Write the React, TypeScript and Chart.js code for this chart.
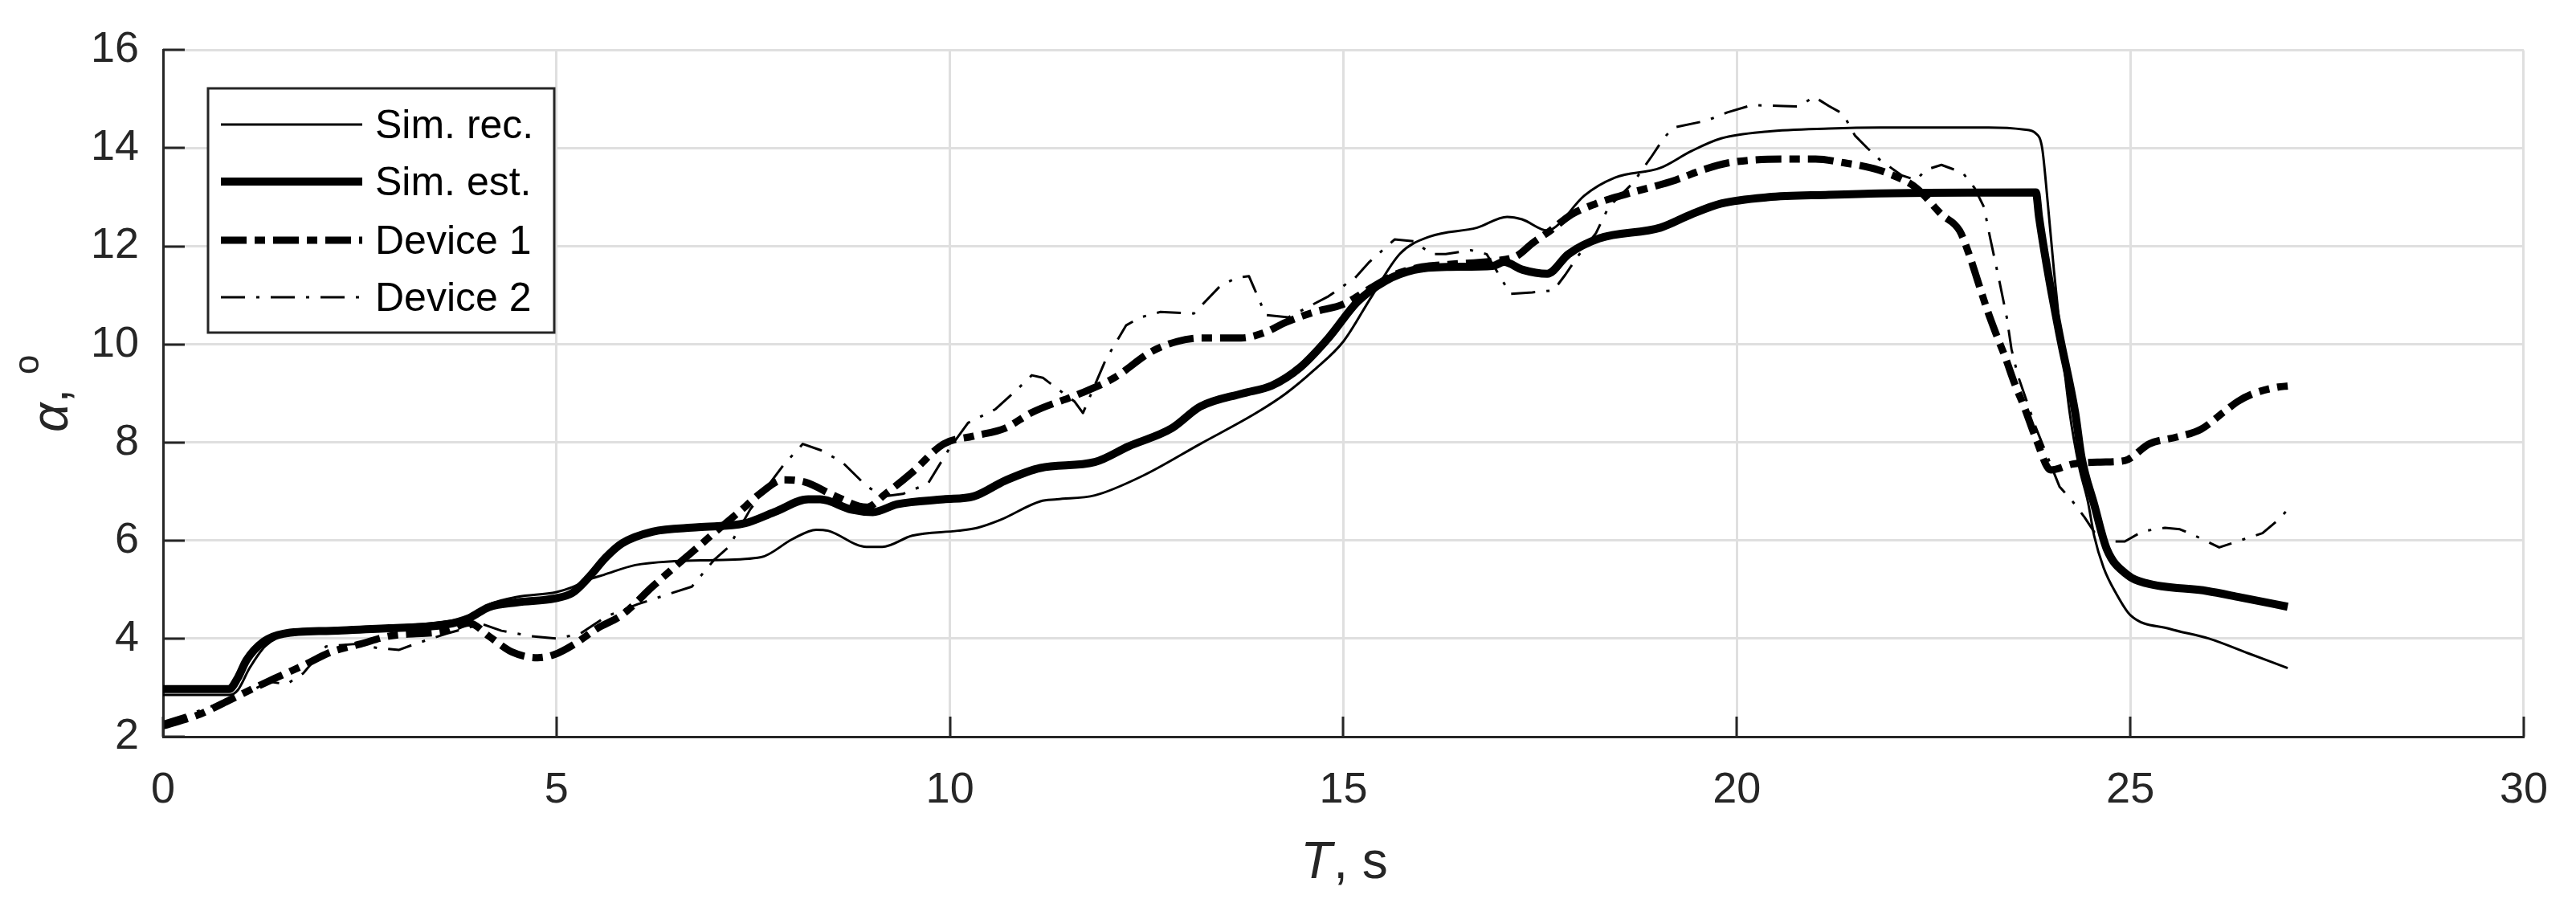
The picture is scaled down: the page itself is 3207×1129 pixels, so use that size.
import React, { useEffect, useRef } from "react";
import { Chart, registerables } from "chart.js";

Chart.register(...registerables);

// ---------- data ----------
const simRecT = [0, 0.84, 0.95, 1.1, 1.3, 1.6, 2.1, 2.9, 3.6, 3.9, 4.15, 4.5, 5.0, 5.2, 5.4, 5.6, 6.0, 6.5, 7.0, 7.6, 8.0, 8.3, 8.45, 8.94, 9.14, 9.52, 10.1, 10.35, 10.64, 11.15, 11.36, 11.84, 12.45, 13.18, 13.9, 14.27, 14.63, 15.0, 15.36, 15.72, 16.1, 16.7, 17.08, 17.27, 17.59, 17.7, 18.06, 18.45, 19.03, 19.42, 19.8, 20.39, 21.17, 21.82, 23.2, 23.65, 23.8, 23.88, 23.95, 24.03, 24.1, 24.23, 24.35, 24.46, 24.54, 24.66, 24.82, 25.0, 25.5, 26.0, 26.5, 27.0];
const simRecA = [2.85, 2.85, 2.95, 3.4, 3.85, 4.1, 4.2, 4.25, 4.35, 4.45, 4.7, 4.85, 4.95, 5.05, 5.2, 5.3, 5.5, 5.58, 5.6, 5.66, 6.03, 6.22, 6.2, 5.87, 5.87, 6.1, 6.2, 6.26, 6.42, 6.8, 6.84, 6.92, 7.32, 7.97, 8.61, 9.0, 9.48, 10.06, 10.98, 11.85, 12.2, 12.38, 12.6, 12.55, 12.32, 12.4, 13.03, 13.4, 13.6, 13.94, 14.2, 14.34, 14.4, 14.42, 14.42, 14.38, 14.3, 14.0, 12.9, 11.5, 10.4, 8.6, 7.5, 6.8, 6.1, 5.45, 4.92, 4.48, 4.2, 4.0, 3.7, 3.4];

const simEstT = [0, 0.84, 0.95, 1.06, 1.28, 1.53, 2.14, 2.87, 3.6, 3.89, 4.14, 4.5, 4.98, 5.2, 5.41, 5.63, 5.83, 6.22, 6.8, 7.39, 7.77, 8.2, 8.35, 8.75, 9.02, 9.33, 9.92, 10.3, 10.7, 11.15, 11.84, 12.27, 12.82, 13.18, 13.72, 14.09, 14.45, 14.81, 15.18, 15.54, 15.9, 16.33, 16.9, 17.04, 17.28, 17.59, 17.86, 18.25, 19.03, 19.42, 19.8, 20.39, 21.17, 21.82, 23.8, 23.84, 23.95, 24.1, 24.3, 24.38, 24.54, 24.7, 24.97, 25.2, 25.98, 26.4, 27.0];
const simEstA = [2.97, 2.97, 3.2, 3.56, 3.94, 4.1, 4.16, 4.21, 4.29, 4.42, 4.64, 4.74, 4.82, 4.93, 5.25, 5.66, 5.94, 6.18, 6.27, 6.35, 6.58, 6.84, 6.84, 6.63, 6.58, 6.74, 6.84, 6.9, 7.22, 7.48, 7.6, 7.92, 8.29, 8.73, 9.0, 9.16, 9.53, 10.13, 10.87, 11.3, 11.52, 11.58, 11.6, 11.68, 11.52, 11.44, 11.84, 12.16, 12.38, 12.65, 12.87, 13.0, 13.05, 13.08, 13.1, 12.6, 11.5, 10.2, 8.6, 7.7, 6.74, 5.83, 5.29, 5.13, 4.97, 4.84, 4.65];

const device1T = [0, 0.44, 0.8, 1.13, 1.42, 1.78, 2.14, 2.51, 2.87, 3.6, 3.89, 4.14, 4.43, 4.76, 4.98, 5.23, 5.52, 5.83, 6.22, 6.53, 6.8, 7.0, 7.39, 7.58, 7.89, 8.16, 8.55, 8.94, 9.18, 9.52, 9.92, 10.3, 10.7, 11.04, 11.66, 12.09, 12.56, 12.89, 13.2, 13.7, 13.98, 14.27, 14.63, 15.0, 15.3, 15.65, 16.0, 16.33, 16.9, 17.2, 17.4, 17.63, 17.9, 18.21, 18.52, 19.22, 19.57, 19.89, 20.59, 21.0, 21.37, 21.7, 21.9, 22.28, 22.6, 22.83, 22.95, 23.06, 23.18, 23.29, 23.41, 23.53, 23.65, 23.8, 23.99, 24.27, 24.62, 24.93, 25.24, 25.59, 25.9, 26.18, 26.37, 26.57, 26.88, 27.0];
const device1A = [2.22, 2.44, 2.71, 2.97, 3.19, 3.45, 3.73, 3.89, 4.05, 4.16, 4.32, 4.05, 3.73, 3.61, 3.68, 3.89, 4.21, 4.48, 5.06, 5.5, 5.87, 6.15, 6.68, 6.95, 7.24, 7.19, 6.9, 6.68, 6.95, 7.39, 7.97, 8.13, 8.29, 8.61, 9.0, 9.32, 9.85, 10.06, 10.13, 10.13, 10.23, 10.45, 10.66, 10.82, 11.1, 11.42, 11.58, 11.63, 11.7, 11.8, 12.06, 12.32, 12.65, 12.87, 13.03, 13.35, 13.56, 13.7, 13.78, 13.78, 13.7, 13.6, 13.5, 13.19, 12.65, 12.32, 11.84, 11.3, 10.71, 10.23, 9.74, 9.2, 8.73, 8.08, 7.44, 7.56, 7.6, 7.63, 7.97, 8.11, 8.27, 8.61, 8.84, 9.0, 9.13, 9.15];

const device2T = [0, 0.5, 1.0, 1.35, 1.57, 1.78, 2.07, 2.44, 2.72, 3.0, 3.2, 3.6, 4.05, 4.3, 4.68, 5.0, 5.3, 5.63, 6.03, 6.41, 6.72, 7.0, 7.19, 7.46, 7.89, 8.13, 8.36, 8.63, 8.94, 9.15, 9.4, 9.72, 9.99, 10.23, 10.58, 10.82, 11.04, 11.18, 11.36, 11.58, 11.69, 11.98, 12.24, 12.42, 12.67, 13.1, 13.44, 13.65, 13.8, 13.94, 14.01, 14.3, 14.81, 15.15, 15.33, 15.65, 15.9, 16.12, 16.3, 16.62, 16.82, 17.0, 17.12, 17.4, 17.67, 17.82, 17.98, 18.21, 18.37, 18.68, 18.92, 19.07, 19.19, 19.61, 19.88, 20.19, 20.59, 20.79, 20.98, 21.17, 21.35, 21.5, 21.66, 21.82, 22.09, 22.28, 22.4, 22.6, 22.87, 23.02, 23.14, 23.22, 23.34, 23.43, 23.49, 23.57, 23.8, 24.1, 24.27, 24.42, 24.62, 24.93, 25.16, 25.44, 25.63, 25.82, 26.13, 26.45, 26.68, 26.88, 27.0];
const device2A = [2.3, 2.55, 2.85, 3.12, 3.07, 3.29, 3.84, 3.89, 3.81, 3.77, 3.89, 4.1, 4.3, 4.16, 4.05, 4.0, 4.1, 4.45, 4.7, 4.9, 5.06, 5.6, 5.87, 6.63, 7.55, 7.97, 7.84, 7.6, 7.11, 6.9, 6.95, 7.16, 7.87, 8.4, 8.68, 9.03, 9.37, 9.32, 9.1, 8.84, 8.6, 9.69, 10.39, 10.55, 10.66, 10.63, 11.2, 11.36, 11.39, 10.87, 10.6, 10.55, 10.98, 11.36, 11.68, 12.14, 12.1, 11.84, 11.84, 11.92, 11.84, 11.36, 11.03, 11.06, 11.1, 11.42, 11.8, 12.27, 12.8, 13.29, 13.84, 14.2, 14.42, 14.56, 14.73, 14.88, 14.86, 14.85, 15.05, 14.86, 14.7, 14.26, 14.0, 13.76, 13.45, 13.35, 13.56, 13.66, 13.5, 13.19, 12.8, 12.16, 11.26, 10.55, 9.9, 9.37, 8.3, 7.1, 6.79, 6.47, 5.98, 5.98, 6.19, 6.26, 6.23, 6.1, 5.86, 6.03, 6.15, 6.42, 6.63];

const legendLabels = ["Sim. rec.", "Sim. est.", "Device 1", "Device 2"];
const xTicks = [0, 5, 10, 15, 20, 25, 30];
const yTicks = [2, 4, 6, 8, 10, 12, 14, 16];

// ---------- styles ----------
const FONT = "'Liberation Sans', Arial, sans-serif";
const AXIS = "#262626";
const GRID = "#dfdfdf";
const styles = [
  { width: 3, dash: [] as number[] },
  { width: 10, dash: [] as number[] },
  { width: 9, dash: [32, 10, 13, 10] },
  { width: 3, dash: [30, 14, 4, 14] },
];

const pts = (t: number[], a: number[]) => t.map((x, i) => ({ x, y: a[i] }));

const overlay = {
  id: "overlay",
  afterDraw(chart: any) {
    const { ctx, chartArea: ca, scales } = chart;
    const x = scales.x;
    const y = scales.y;
    ctx.save();
    // inward ticks
    ctx.strokeStyle = AXIS;
    ctx.lineWidth = 3;
    ctx.lineCap = "butt";
    ctx.setLineDash([]);
    ctx.beginPath();
    for (const v of xTicks) {
      const px = Math.round(x.getPixelForValue(v));
      ctx.moveTo(px, ca.bottom);
      ctx.lineTo(px, ca.bottom - 25);
    }
    for (const v of yTicks) {
      const py = Math.round(y.getPixelForValue(v));
      ctx.moveTo(ca.left, py);
      ctx.lineTo(ca.left + 27, py);
    }
    ctx.stroke();

    // x title: "T, s"
    ctx.fillStyle = AXIS;
    ctx.textBaseline = "alphabetic";
    ctx.textAlign = "left";
    const fItal = `italic 64px ${FONT}`;
    const fReg = `64px ${FONT}`;
    ctx.font = fItal;
    const wT = ctx.measureText("T").width;
    ctx.font = fReg;
    const wS = ctx.measureText(", s").width;
    const cx = (ca.left + ca.right) / 2;
    let sx = cx - (wT + wS) / 2;
    const by = 1093;
    ctx.font = fItal;
    ctx.fillText("T", sx, by);
    ctx.font = fReg;
    ctx.fillText(", s", sx + wT + 2, by);

    // y title: "α, o" rotated
    ctx.save();
    ctx.translate(84, (ca.top + ca.bottom) / 2);
    ctx.rotate(-Math.PI / 2);
    ctx.font = fItal;
    const wA = ctx.measureText("α").width;
    ctx.font = fReg;
    const wC = ctx.measureText(", ").width;
    ctx.font = `44px ${FONT}`;
    const wO = ctx.measureText("o").width;
    let lx = -(wA + wC + wO) / 2;
    ctx.font = fItal;
    ctx.fillText("α", lx, 0);
    ctx.font = fReg;
    ctx.fillText(",", lx + wA, 0);
    ctx.font = `44px ${FONT}`;
    ctx.fillText("o", lx + wA + wC, -36);
    ctx.restore();

    // legend
    const L = 259, T = 110, R = 690, B = 414;
    ctx.fillStyle = "#ffffff";
    ctx.fillRect(L, T, R - L, B - T);
    ctx.strokeStyle = AXIS;
    ctx.lineWidth = 3;
    ctx.strokeRect(L, T, R - L, B - T);
    const rows = [155, 226, 299, 370];
    ctx.font = `50px ${FONT}`;
    ctx.textBaseline = "middle";
    for (let i = 0; i < legendLabels.length; i++) {
      const st = styles[i];
      ctx.strokeStyle = "#000000";
      ctx.lineWidth = st.width;
      ctx.setLineDash(st.dash);
      ctx.beginPath();
      ctx.moveTo(275, rows[i]);
      ctx.lineTo(451, rows[i]);
      ctx.stroke();
      ctx.setLineDash([]);
      ctx.fillStyle = "#000000";
      ctx.fillText(legendLabels[i], 467, rows[i] + 3);
    }
    ctx.restore();
  },
};

export default function App() {
  const ref = useRef<HTMLCanvasElement | null>(null);
  useEffect(() => {
    if (!ref.current) return;
    const series = [
      { t: simRecT, a: simRecA, smooth: true },
      { t: simEstT, a: simEstA, smooth: true },
      { t: device1T, a: device1A, smooth: true },
      { t: device2T, a: device2A, smooth: false },
    ];
    const chart = new Chart(ref.current, {
      type: "line",
      data: {
        datasets: series.map((s, i) => ({
          label: legendLabels[i],
          data: pts(s.t, s.a),
          borderColor: "#000000",
          backgroundColor: "#000000",
          borderWidth: styles[i].width,
          borderDash: styles[i].dash,
          borderCapStyle: "butt",
          borderJoinStyle: "round",
          pointRadius: 0,
          fill: false,
          tension: 0,
          cubicInterpolationMode: s.smooth ? "monotone" : "default",
          order: 4 - i,
        })) as any,
      },
      options: {
        animation: false,
        responsive: true,
        maintainAspectRatio: false,
        layout: { padding: { left: 0, top: 49, right: 52, bottom: 0 } },
        plugins: { legend: { display: false }, tooltip: { enabled: false } },
        scales: {
          x: {
            type: "linear",
            min: 0,
            max: 30,
            afterFit: (s: any) => {
              s.height = 212;
            },
            ticks: {
              stepSize: 5,
              font: { family: FONT, size: 54 },
              color: AXIS,
              padding: 35,
              maxRotation: 0,
            },
            grid: { color: GRID, lineWidth: 3, drawTicks: false },
            border: { display: true, color: AXIS, width: 3 },
          },
          y: {
            type: "linear",
            min: 2,
            max: 16,
            afterFit: (s: any) => {
              s.width = 203;
            },
            ticks: {
              stepSize: 2,
              font: { family: FONT, size: 54 },
              color: AXIS,
              padding: 30,
            },
            grid: { color: GRID, lineWidth: 3, drawTicks: false },
            border: { display: true, color: AXIS, width: 3 },
          },
        },
      } as any,
      plugins: [overlay],
    });
    return () => chart.destroy();
  }, []);
  return (
    <div
      style={{
        position: "fixed",
        left: 0,
        top: 0,
        width: 3207,
        height: 1129,
        background: "#ffffff",
      }}
    >
      <canvas ref={ref} />
    </div>
  );
}
